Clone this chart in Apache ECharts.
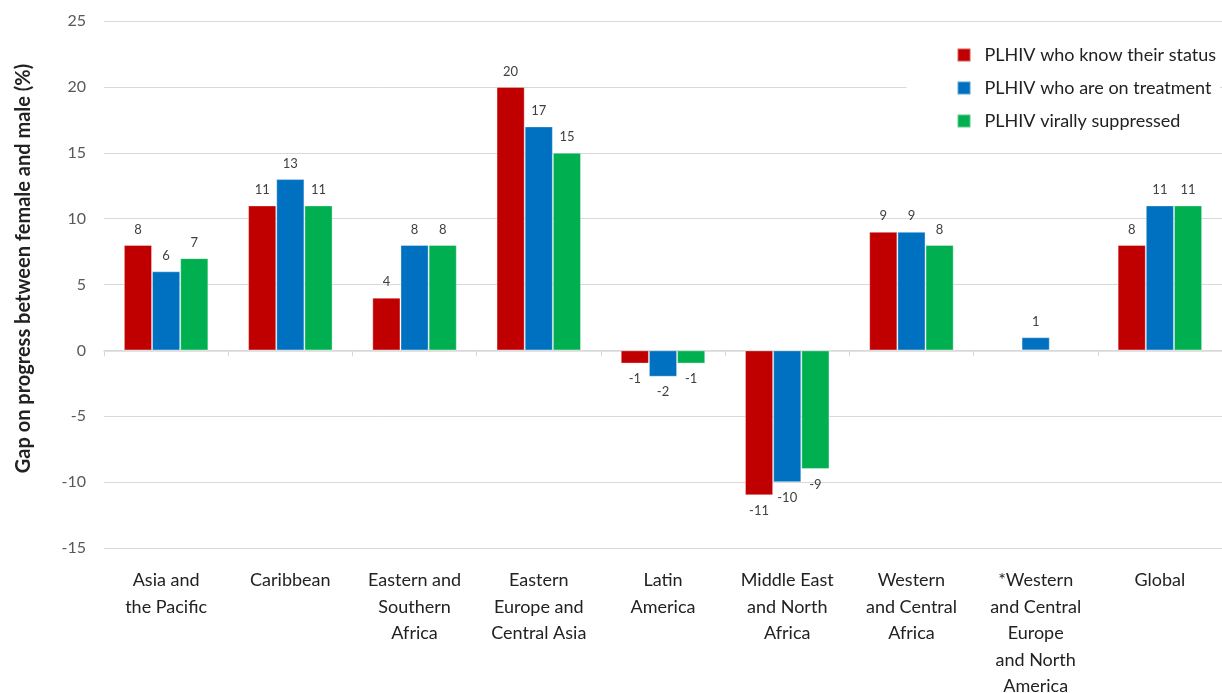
<!DOCTYPE html>
<html>
<head>
<meta charset="utf-8">
<script src="https://cdn.jsdelivr.net/npm/echarts@6/dist/echarts.min.js"></script>
<style>
  html, body { margin: 0; padding: 0; background: #fff; }
  #chart { width: 1222px; height: 693px; }
</style>
</head>
<body>
<div id="chart"></div>
<script>
// Regions shown along the x axis
const regions = [
  'Asia and\nthe Pacific',
  'Caribbean',
  'Eastern and\nSouthern\nAfrica',
  'Eastern\nEurope and\nCentral Asia',
  'Latin\nAmerica',
  'Middle East\nand North\nAfrica',
  'Western\nand Central\nAfrica',
  '*Western\nand Central\nEurope\nand North\nAmerica',
  'Global'
];

// Gap (female minus male, percentage points) for each cascade step
const knowStatus = [8, 11, 4, 20, -1, -11, 9, null, 8];
const onTreatment = [6, 13, 8, 17, -2, -10, 9, 1, 11];
const suppressed = [7, 11, 8, 15, -1, -9, 8, null, 11];

const yTicks = { min: -15, max: 25, interval: 5 };

const FONT = 'Lato';

function barSeries(name, data, color) {
  return {
    name: name,
    type: 'bar',
    xAxisIndex: 0,
    data: data,
    barGap: '0%',
    barCategoryGap: '32%',
    itemStyle: { color: color, borderColor: 'rgba(255,255,255,0.35)', borderWidth: 1 },
    label: {
      show: true,
      position: 'top',
      distance: 9,
      color: '#404040',
      fontFamily: FONT,
      fontSize: 13,
      formatter: p => (p.value == null ? '' : String(p.value))
    }
  };
}

const series = [
  barSeries('PLHIV who know their status', knowStatus, '#C00000'),
  barSeries('PLHIV who are on treatment', onTreatment, '#0070C0'),
  barSeries('PLHIV virally suppressed', suppressed, '#00B050')
];
// negative values get their label underneath the bar
series.forEach(s => {
  s.data = s.data.map(v => (v != null && v < 0)
    ? { value: v, label: { position: 'bottom' } }
    : v);
});

const chart = echarts.init(document.getElementById('chart'), null, { renderer: 'canvas' });
chart.setOption({
  animation: false,
  backgroundColor: '#fff',
  textStyle: { fontFamily: FONT },
  grid: { left: 104, right: 0, top: 21, bottom: 145, outerBoundsMode: 'none', containLabel: false },
  legend: {
    orient: 'vertical',
    right: 2,
    top: 36,
    padding: [10, 4, 10, 50],
    backgroundColor: '#fff',
    itemWidth: 13,
    itemHeight: 13,
    itemGap: 15,
    icon: 'rect',
    textStyle: { color: '#222', fontSize: 18, fontFamily: FONT, padding: [0, 0, 0, 9] },
    data: series.map(s => s.name)
  },
  xAxis: [
    {
      type: 'category',
      data: regions,
      position: 'bottom',
      axisLine: { show: false, onZero: false },
      axisTick: { show: false },
      axisLabel: {
        color: '#222',
        fontSize: 18,
        fontFamily: FONT,
        lineHeight: 26.5,
        margin: 19,
        interval: 0
      }
    },
    {
      type: 'category',
      data: regions,
      position: 'bottom',
      axisLine: { show: true, onZero: true, lineStyle: { color: '#d9d9d9', width: 1.5 } },
      axisTick: { show: true, length: 6, lineStyle: { color: '#d9d9d9' } },
      axisLabel: { show: false }
    }
  ],
  yAxis: {
    type: 'value',
    min: yTicks.min,
    max: yTicks.max,
    interval: yTicks.interval,
    name: 'Gap on progress between female and male (%)',
    nameLocation: 'middle',
    nameGap: 70,
    nameTextStyle: { color: '#222', fontSize: 20, fontWeight: 'bold', fontFamily: FONT, padding: [0, 0, 0, 32] },
    axisLine: { show: false },
    axisTick: { show: false },
    axisLabel: { color: '#595959', fontSize: 16, fontFamily: FONT, margin: 18 },
    splitLine: { lineStyle: { color: '#d9d9d9', width: 1 } }
  },
  series: series
});
</script>
</body>
</html>
